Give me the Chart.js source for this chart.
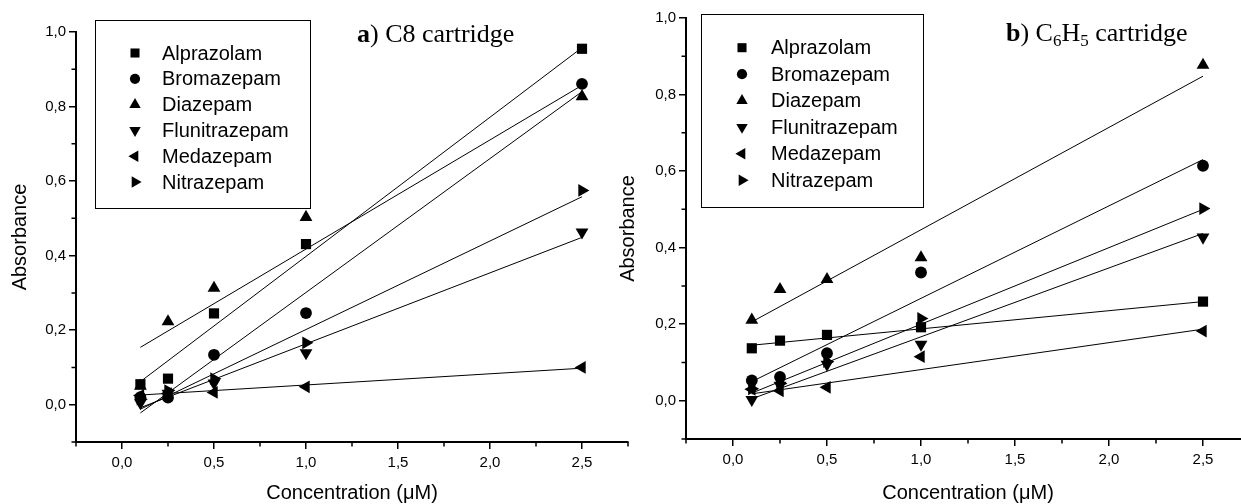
<!DOCTYPE html>
<html>
<head>
<meta charset="utf-8">
<script src="https://cdn.jsdelivr.net/npm/chart.js@4.4.1/dist/chart.umd.min.js"></script>
<style>
    html, body { margin: 0; padding: 0; background: #fff; }
    body { width: 1241px; height: 504px; position: relative; overflow: hidden; }
    canvas { position: absolute; top: 0; }
    #chartA { left: 0; }
    #chartB { left: 610px; }
</style>
</head>
<body>
<canvas id="chartA" width="640" height="504"></canvas>
<canvas id="chartB" width="650" height="504"></canvas>
<script>
// concentrations (uM) used in both panels
const concentrations = [0.1, 0.25, 0.5, 1.0, 2.5];
const fitRange = [0.1, 2.5];
const compounds = ['Alprazolam', 'Bromazepam', 'Diazepam', 'Flunitrazepam', 'Medazepam', 'Nitrazepam'];

// a) C8 cartridge - measured absorbance
const alprazolamC8 = [0.055, 0.070, 0.245, 0.431, 0.955];
const bromazepamC8 = [0.020, 0.019, 0.134, 0.246, 0.861];
const diazepamC8 = [0.050, 0.223, 0.313, 0.503, 0.827];
const flunitrazepamC8 = [0.005, 0.030, 0.058, 0.139, 0.463];
const medazepamC8 = [0.025, 0.030, 0.033, 0.048, 0.100];
const nitrazepamC8 = [0.015, 0.038, 0.070, 0.166, 0.575];
// a) fitted lines, value at 0.1 and at 2.5
const fitsC8 = [[0.062, 0.958], [-0.022, 0.840], [0.154, 0.857], [-0.008, 0.449], [0.026, 0.098], [-0.012, 0.558]];

// b) C6H5 cartridge - measured absorbance
const alprazolamC6H5 = [0.137, 0.157, 0.172, 0.192, 0.259];
const bromazepamC6H5 = [0.053, 0.062, 0.124, 0.335, 0.614];
const diazepamC6H5 = [0.211, 0.291, 0.317, 0.374, 0.877];
const flunitrazepamC6H5 = [0.003, 0.040, 0.095, 0.147, 0.427];
const medazepamC6H5 = [0.030, 0.026, 0.035, 0.115, 0.182];
const nitrazepamC6H5 = [0.031, 0.045, 0.102, 0.215, 0.502];
const fitsC6H5 = [[0.145, 0.259], [0.050, 0.630], [0.206, 0.848], [0.005, 0.437], [0.018, 0.187], [0.020, 0.500]];

// axis ticks
const yTickValues = [0, 0.2, 0.4, 0.6, 0.8, 1.0];
const yMinorTicks = [-0.1, 0.1, 0.3, 0.5, 0.7, 0.9];
const xTickValues = [0, 0.5, 1.0, 1.5, 2.0, 2.5];
const xMinorTicks = [-0.25, 0.25, 0.75, 1.25, 1.75, 2.25, 2.75];

const SANS = "'Liberation Sans', Arial, sans-serif";
const SERIF = "'Liberation Serif', 'Times New Roman', serif";
const markers = [
    { style: 'rect', rotation: 0, radius: 7.2 },
    { style: 'circle', rotation: 0, radius: 5.9 },
    { style: 'triangle', rotation: 0, radius: 7.4 },
    { style: 'triangle', rotation: 180, radius: 7.4 },
    { style: 'triangle', rotation: 270, radius: 7.4 },
    { style: 'triangle', rotation: 90, radius: 7.4 }
];

const fmt = v => v.toFixed(1).replace('.', ',');

// minor ticks, legend box and panel title
const decorPlugin = {
    id: 'decor',
    afterDraw(chart, args, o) {
        const ctx = chart.ctx;
        const xs = chart.scales.x, ys = chart.scales.y;
        const area = chart.chartArea;
        ctx.save();
        ctx.strokeStyle = '#000';
        ctx.lineWidth = 1.5;
        ctx.beginPath();
        yMinorTicks.forEach(v => {
            const p = ys.getPixelForValue(v);
            ctx.moveTo(area.left - 4.5, p);
            ctx.lineTo(area.left, p);
        });
        xMinorTicks.forEach(v => {
            const p = xs.getPixelForValue(v);
            ctx.moveTo(p, area.bottom);
            ctx.lineTo(p, area.bottom + 4.5);
        });
        ctx.stroke();

        // legend
        const L = o.legend;
        ctx.lineWidth = 1;
        ctx.strokeRect(L.x1 + 0.5, L.y1 + 0.5, L.x2 - L.x1, L.y2 - L.y1);
        ctx.fillStyle = '#000';
        ctx.font = '20px ' + SANS;
        ctx.textBaseline = 'middle';
        ctx.textAlign = 'left';
        compounds.forEach((name, i) => {
            const yy = L.rowTop + i * L.rowStep;
            Chart.helpers.drawPoint(ctx, {
                pointStyle: markers[i].style,
                rotation: markers[i].rotation,
                radius: markers[i].radius - 0.8,
                borderWidth: 0
            }, L.markerX, yy);
            ctx.fillStyle = '#000';
            ctx.fillText(name, L.textX, yy + 1);
        });

        // title (bold letter + rest, with optional subscripts)
        let tx = o.title.x;
        const base = o.title.y;
        ctx.textBaseline = 'alphabetic';
        o.title.parts.forEach(part => {
            ctx.font = (part.bold ? 'bold ' : '') + (part.sub ? 17 : 26) + 'px ' + SERIF;
            ctx.fillText(part.text, tx, base + (part.sub ? 5 : 0));
            tx += ctx.measureText(part.text).width;
        });
        ctx.restore();
    }
};

function buildPanel(id, series, fits, geom, decor) {
    const datasets = [];
    series.forEach((vals, i) => {
        datasets.push({
            label: compounds[i] + ' fit',
            data: [{ x: fitRange[0], y: fits[i][0] }, { x: fitRange[1], y: fits[i][1] }],
            showLine: true,
            borderColor: '#000',
            borderWidth: 1,
            pointRadius: 0,
            fill: false
        });
        datasets.push({
            label: compounds[i],
            data: concentrations.map((c, k) => ({ x: c, y: vals[k] })),
            showLine: false,
            pointStyle: markers[i].style,
            pointRotation: markers[i].rotation,
            pointRadius: markers[i].radius,
            backgroundColor: '#000',
            borderColor: '#000',
            borderWidth: 0
        });
    });

    const ctx = document.getElementById(id).getContext('2d');
    return new Chart(ctx, {
        type: 'scatter',
        data: { datasets },
        options: {
            responsive: false,
            animation: false,
            devicePixelRatio: 1,
            layout: { padding: { top: geom.top, right: geom.right, left: 0, bottom: 0 } },
            plugins: {
                legend: { display: false },
                tooltip: { enabled: false },
                decor
            },
            scales: {
                x: {
                    type: 'linear',
                    min: -0.25,
                    max: 2.75,
                    afterBuildTicks: s => { s.ticks = xTickValues.map(v => ({ value: v })); },
                    afterFit: s => { s.height = geom.xHeight; },
                    grid: { display: true, drawOnChartArea: false, drawTicks: true, tickLength: 7, lineWidth: 1.5, color: '#000' },
                    border: { display: true, color: '#000', width: 2 },
                    ticks: { color: '#000', font: { family: SANS, size: 15 }, padding: 5, maxRotation: 0, autoSkip: false, callback: v => fmt(v) },
                    title: { display: true, text: 'Concentration (μM)', color: '#000', font: { family: SANS, size: 20 }, padding: { top: 0, bottom: -1 } }
                },
                y: {
                    type: 'linear',
                    min: -0.1,
                    max: 1.0,
                    afterBuildTicks: s => { s.ticks = yTickValues.map(v => ({ value: v })); },
                    afterFit: s => { s.width = geom.yWidth; },
                    grid: { display: true, drawOnChartArea: false, drawTicks: true, tickLength: 7, lineWidth: 1.5, color: '#000' },
                    border: { display: true, color: '#000', width: 2 },
                    ticks: { color: '#000', font: { family: SANS, size: 15 }, padding: 3, callback: v => fmt(v) },
                    title: { display: true, text: 'Absorbance', color: '#000', font: { family: SANS, size: 20 }, padding: { top: geom.yTitlePad, bottom: 0 } }
                }
            }
        },
        plugins: [decorPlugin]
    });
}

buildPanel('chartA',
    [alprazolamC8, bromazepamC8, diazepamC8, flunitrazepamC8, medazepamC8, nitrazepamC8],
    fitsC8,
    { top: 32, right: 12, xHeight: 62, yWidth: 76, yTitlePad: 8 },
    {
        legend: { x1: 95, y1: 20, x2: 310, y2: 208, markerX: 135, textX: 162, rowTop: 53, rowStep: 25.8 },
        title: { x: 357, y: 42, parts: [{ text: 'a', bold: true }, { text: ') C8 cartridge' }] }
    });

buildPanel('chartB',
    [alprazolamC6H5, bromazepamC6H5, diazepamC6H5, flunitrazepamC6H5, medazepamC6H5, nitrazepamC6H5],
    fitsC6H5,
    { top: 18, right: 10, xHeight: 65, yWidth: 76, yTitlePad: 6 },
    {
        legend: { x1: 91, y1: 14, x2: 313, y2: 207, markerX: 132, textX: 161, rowTop: 47.7, rowStep: 26.5 },
        title: { x: 396, y: 41, parts: [{ text: 'b', bold: true }, { text: ') C' }, { text: '6', sub: true }, { text: 'H' }, { text: '5', sub: true }, { text: ' cartridge' }] }
    });
</script>
</body>
</html>
